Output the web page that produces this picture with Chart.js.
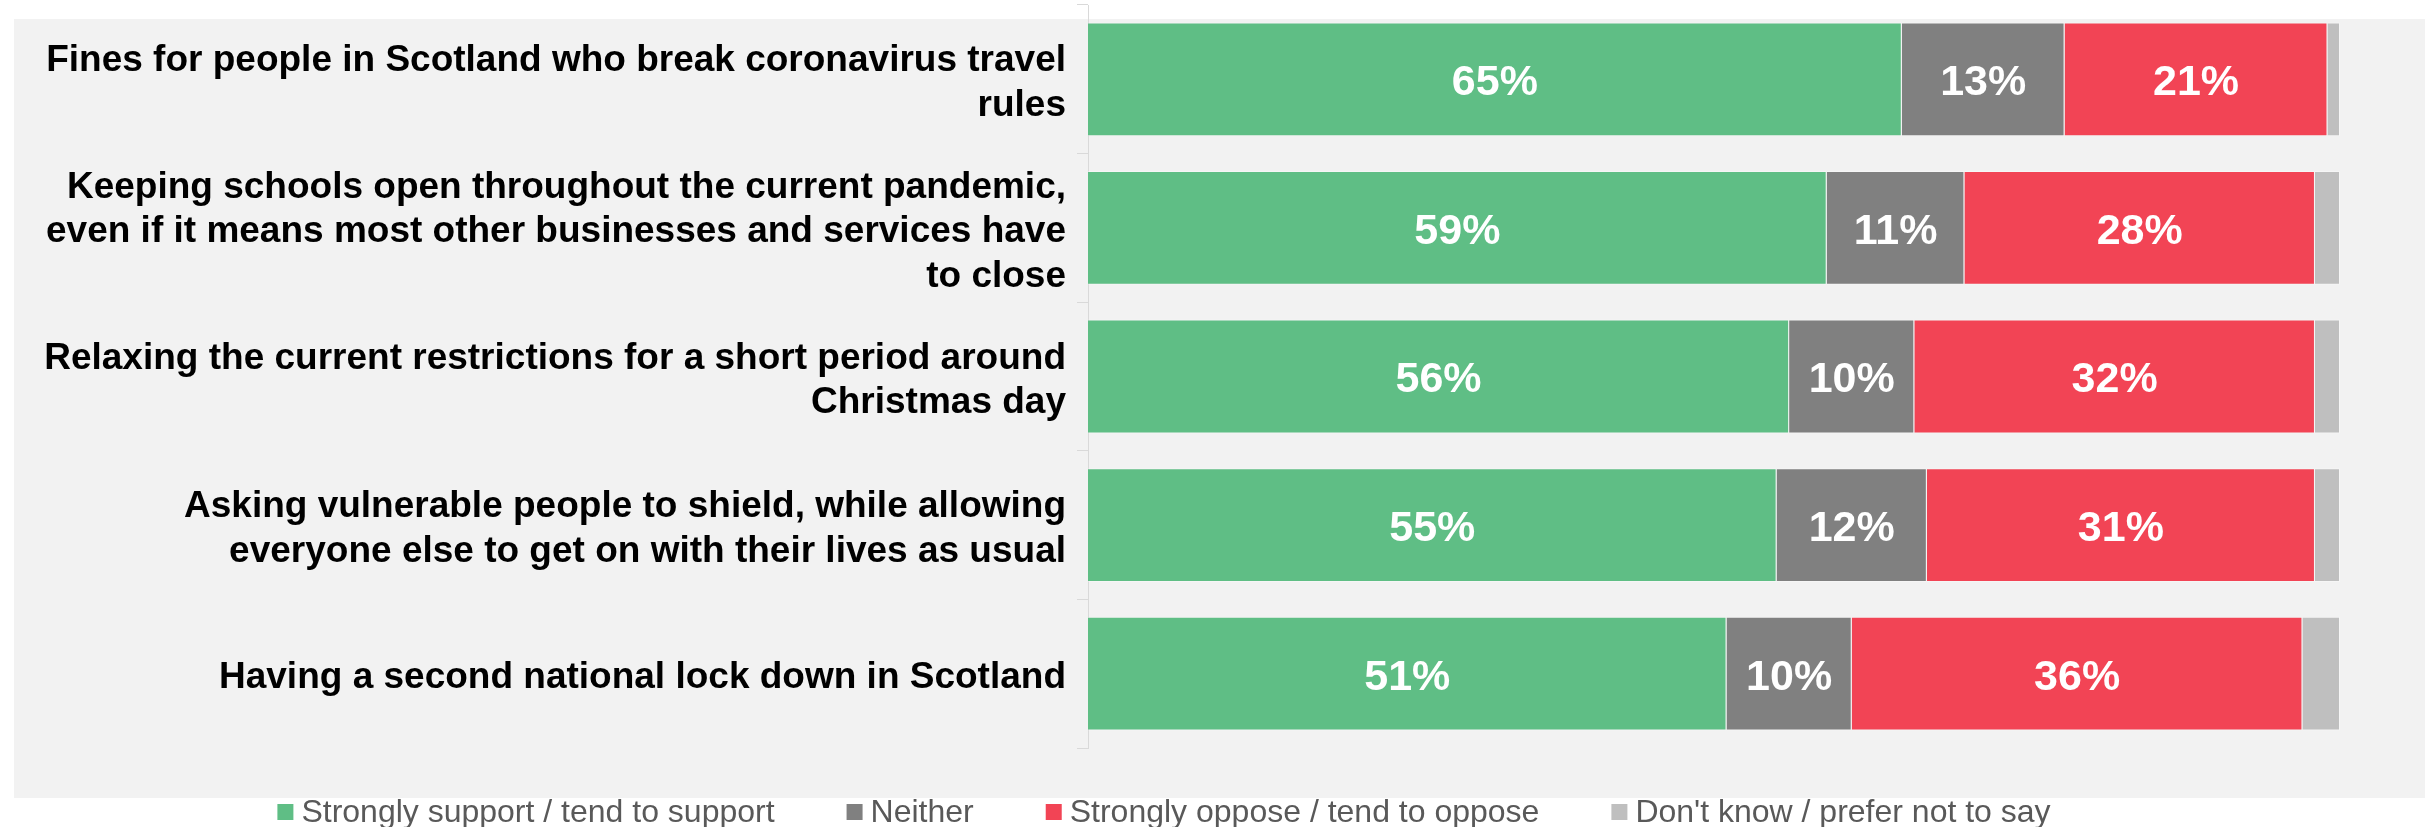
<!DOCTYPE html>
<html>
<head>
<meta charset="utf-8">
<script src="https://cdn.jsdelivr.net/npm/chart.js@4/dist/chart.umd.min.js"></script>
<style>
  html, body { margin: 0; padding: 0; background: #fff; }
  canvas { display: block; }
</style>
</head>
<body>
<canvas id="supportChart" width="2425" height="827"></canvas>
<script>
const statements = [
  ['Fines for people in Scotland who break coronavirus travel', 'rules'],
  ['Keeping schools open throughout the current pandemic,', 'even if it means most other businesses and services have', 'to close'],
  ['Relaxing the current restrictions for a short period around', 'Christmas day'],
  ['Asking vulnerable people to shield, while allowing', 'everyone else to get on with their lives as usual'],
  ['Having a second national lock down in Scotland']
];

const support = [65, 59, 56, 55, 51];
const neither = [13, 11, 10, 12, 10];
const oppose = [21, 28, 32, 31, 36];
const dontKnow = [1, 2, 2, 2, 3];

const seriesNames = [
  'Strongly support / tend to support',
  'Neither',
  'Strongly oppose / tend to oppose',
  "Don't know / prefer not to say"
];

const FONT = '"Liberation Sans", Arial, sans-serif';

// light grey panel behind the plot and labels
const panel = {
  id: 'panel',
  beforeDraw(chart) {
    const c = chart.ctx;
    c.save();
    c.fillStyle = '#ffffff';
    c.fillRect(0, 0, chart.width, chart.height);
    c.fillStyle = '#f2f2f2';
    c.fillRect(14, 19, chart.width - 14, 779);
    c.restore();
  }
};

// percentage labels in the middle of each segment (skip the "don't know" sliver)
const segmentLabels = {
  id: 'segmentLabels',
  afterDatasetsDraw(chart) {
    const c = chart.ctx;
    c.save();
    c.font = 'bold 43px ' + FONT;
    c.fillStyle = '#ffffff';
    c.textAlign = 'center';
    c.textBaseline = 'middle';
    chart.data.datasets.forEach((ds, di) => {
      if (di > 2) return;
      chart.getDatasetMeta(di).data.forEach((bar, i) => {
        const x = (bar.x + bar.base) / 2;
        c.fillText(ds.data[i] + '%', x, bar.y + 4);
      });
    });
    c.restore();
  }
};

// legend row on the white strip under the panel
const bottomLegend = {
  id: 'bottomLegend',
  afterDraw(chart) {
    const c = chart.ctx;
    const box = 16, gap = 8, spacing = 72, centerX = 1164, y = 812;
    c.save();
    c.font = '32px ' + FONT;
    c.textBaseline = 'middle';
    const items = chart.data.datasets.map(ds => ({
      text: ds.label,
      color: ds.backgroundColor,
      w: c.measureText(ds.label).width
    }));
    const total = items.reduce((s, it) => s + box + gap + it.w, 0) + spacing * (items.length - 1);
    let x = centerX - total / 2;
    items.forEach(it => {
      c.fillStyle = it.color;
      c.fillRect(x, y - box / 2, box, box);
      c.fillStyle = '#595959';
      c.fillText(it.text, x + box + gap, y + 1);
      x += box + gap + it.w + spacing;
    });
    c.restore();
  }
};

const colors = ['#5fbe85', '#808080', '#f24455', '#bfbfbf'];
const values = [support, neither, oppose, dontKnow];

new Chart(document.getElementById('supportChart'), {
  type: 'bar',
  data: {
    labels: statements,
    datasets: values.map((v, i) => ({
      label: seriesNames[i],
      data: v,
      backgroundColor: colors[i],
      borderColor: 'rgba(255,255,255,0.35)',
      borderWidth: 1,
      barPercentage: 0.766,
      categoryPercentage: 1
    }))
  },
  options: {
    indexAxis: 'y',
    responsive: false,
    devicePixelRatio: 1,
    animation: false,
    layout: { padding: { top: 5, right: 85, left: 0, bottom: 79 } },
    scales: {
      x: {
        stacked: true,
        min: 0,
        max: 100,
        display: false
      },
      y: {
        stacked: true,
        afterFit: scale => {
          scale.width = 1088;
          scale.paddingTop = 0;
          scale.paddingBottom = 0;
        },
        grid: {
          drawOnChartArea: false,
          drawTicks: true,
          tickLength: 11,
          color: '#d9d9d9'
        },
        border: { display: true, color: '#d9d9d9', width: 1 },
        ticks: {
          color: '#000000',
          padding: 11,
          labelOffset: 4,
          font: { family: FONT, size: 37, weight: 'bold', lineHeight: 1.2 }
        }
      }
    },
    plugins: {
      tooltip: { enabled: false },
      legend: { display: false }
    }
  },
  plugins: [panel, segmentLabels, bottomLegend]
});
</script>
</body>
</html>
